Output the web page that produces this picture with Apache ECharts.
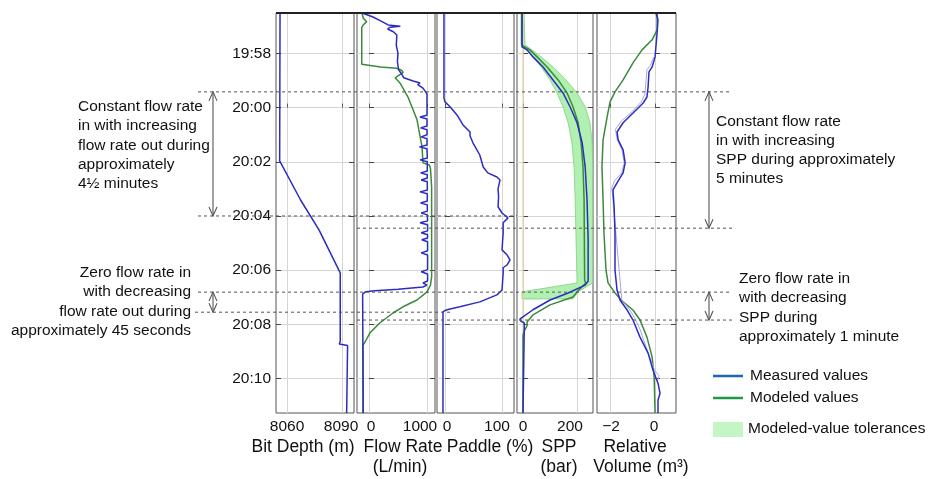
<!DOCTYPE html>
<html><head><meta charset="utf-8">
<script src="https://cdn.jsdelivr.net/npm/echarts@6/dist/echarts.min.js"></script>
<style>html,body{margin:0;padding:0;background:#fff}#c{width:928px;height:479px}</style>
</head><body><div id="c"></div>
<script>
// ---- DATA (time = minutes relative to 20:00) ----
const timeTicks = [-2, 0, 2, 4, 6, 8, 10];
const timeMin = -3.49, timeMax = 11.27;

const bitDepthTicks = [8060, 8090];
const flowTicks = [0, 1000];
const paddleTicks = [0, 100];
const sppTicks = [0, 200];
const volTicks = [-2, 0];

const bitDepthT = [-3.49, 1.97, 3.41, 4.52, 6.1, 8.62, 8.66, 8.72, 8.78, 11.27];
const bitDepthV = [8056.2, 8056, 8067.4, 8077.5, 8089, 8089, 8088, 8088.5, 8093, 8092.5];

const flowMeasT = [-3.49,-3.35,-3.2,-3.05,-3.0,-2.96,-2.9,-2.8,-2.68,-2.3,-2.0,-1.7,-1.39,-1.25,-1.10,-0.98,-0.91,-0.85,-0.72,-0.6,-0.5,0.0,0.28,0.35,0.42,0.68,0.75,0.82,1.0,1.08,1.15,1.38,1.45,1.52,1.86,1.93,2.0,2.34,2.41,2.48,2.6,2.67,2.74,3.04,3.11,3.18,3.45,3.52,3.59,3.82,3.89,3.96,4.18,4.25,4.32,4.55,4.62,4.69,4.81,4.88,4.95,5.28,5.36,5.44,5.98,6.06,6.14,6.4,6.47,6.55,6.62,6.70,6.76,6.80,6.88,6.95,11.27];
const flowMeasV = [-120,60,200,330,540,360,320,420,480,470,500,490,510,560,600,760,880,840,930,970,1000,1000,1000,880,1000,1000,890,1000,1000,900,1000,1000,870,1000,1005,880,1005,1005,890,1005,1005,900,1005,1005,880,1005,1005,890,1005,1005,900,1005,1010,880,1010,1010,900,1010,1010,910,1010,1010,900,1010,1010,900,1010,1010,930,1000,930,500,100,-60,-110,-95,-100];

const flowModT = [-3.49,-3.3,-3.17,-3.05,-2.95,-1.6,-1.5,-1.45,-1.38,-1.3,-1.2,-1.1,-0.91,-0.39,0.45,1.45,2.04,2.12,2.25,2.93,4.62,6.25,6.55,6.80,7.10,7.35,7.58,7.94,8.31,8.65,8.76,11.27];
const flowModV = [-120,-100,-40,-100,-125,-125,200,480,560,590,520,450,534,672,828,914,931,1040,1060,1080,1080,1080,1060,1000,828,586,414,190,17,-69,-103,-103];

const paddleT = [-3.49,-0.36,-0.21,-0.03,0.27,0.64,0.90,1.05,1.30,1.75,2.19,2.41,2.56,2.67,3.0,3.3,3.66,3.89,4.07,4.25,4.62,5.25,5.44,5.62,5.80,5.91,6.10,6.73,6.91,7.17,7.35,7.46,7.53,11.27];
const paddleV = [-1.8,-1.8,0,8.8,21,31.6,43.9,44,49,61,67,75,91,96.5,93,94,93,100,110.5,102,102,100,109,114,109,102,102,100,91,61,26,3.5,-3.5,-3.5];

const sppMeasT = [-3.49,-2.24,-2.13,-1.87,-1.50,-1.02,-0.54,-0.03,0.56,1.30,2.19,3.41,4.88,6.40,6.55,6.84,7.10,7.46,7.72,7.80,7.88,7.95,11.27];
const sppMeasV = [-3.7,-3.7,15,37,74,111,148,174,200,219,230,237,241,241,230,167,100,37,0,-11,-8,5,0];

const sppModT = [-3.49,-2.3,-2.13,-1.87,-1.50,-1.02,-0.54,-0.03,0.56,1.30,2.19,3.41,4.88,6.36,6.47,6.80,6.99,7.28,7.65,7.91,8.05,8.2,8.4,11.27];
const sppModV = [-3.7,-3.7,26,52,89,130,163,185,204,215,222,226,227,228,232,200,185,100,37,15,15,7,0,0];

const sppTolT  = [-3.49,-2.32,-1.87,-1.50,-1.02,-0.54,-0.03,0.56,1.30,2.19,3.41,6.47,6.80,7.06];
const sppTolLo = [-7.4,-7.4,37,67,100,126,148,167,181,189,193,200,-3.7,-3.7];
const sppTolHi = [3.7,7.4,67,111,159,200,230,248,256,258,258,258,204,185];

const volMeasT = [-3.49,-3.24,-2.76,-1.87,-1.50,-1.32,-0.76,-0.39,-0.17,0.20,0.56,0.90,1.19,1.56,2.04,2.41,2.78,3.04,3.67,4.63,6.0,6.73,7.10,7.47,7.84,8.47,9.06,9.69,10.17,10.54,10.80,11.27];
const volMeasV = [0.04,0.13,0.09,0,-0.13,-0.27,-0.31,-0.36,-0.53,-0.98,-1.42,-1.69,-1.64,-1.42,-1.33,-1.42,-1.69,-1.87,-1.82,-1.78,-1.78,-1.69,-1.56,-1.24,-0.98,-0.67,-0.31,-0.09,0.13,0.22,0.13,0.13];

const volRawT = [-1.87,-1.55,-1.40,-1.0,-0.5,-0.2,0.15,0.5,0.8,1.19,1.56,2.04,2.41,2.7,2.95,3.5,7.1,7.47,7.84,8.2,8.6,9.2,9.69,9.9,10.1];
const volRawV = [-0.05,-0.22,-0.36,-0.40,-0.45,-0.62,-1.02,-1.50,-1.76,-1.68,-1.47,-1.37,-1.48,-1.80,-1.92,-1.86,-1.48,-1.12,-0.86,-0.66,-0.50,-0.24,-0.02,0.18,0.10];

const volModT = [-3.49,-2.87,-2.50,-2.13,-1.65,-1.02,-0.58,-0.21,0.34,1.19,2.19,3.41,4.63,6.0,6.47,6.84,7.17,7.47,7.84,8.47,9.21,9.95,11.27];
const volModV = [0.09,0.09,-0.13,-0.58,-0.98,-1.42,-1.78,-2.0,-2.13,-2.31,-2.36,-2.31,-2.27,-2.18,-2.09,-1.78,-1.42,-0.98,-0.67,-0.36,-0.13,-0.04,0.0];

// annotation times
const annLeftTop = -0.58, annLeftBot = 4.0, annRightBot = 4.45;
const annLowTop = 6.81, annLowLeft = 7.55, annLowRight = 7.84;

// ---- LAYOUT / STYLE ----
const FONT = "'Liberation Sans', Arial, Helvetica, sans-serif";
const BLUE = '#2c2cc2', GREEN = '#3a8a3a';
const panels = [
  {left:276, width:78, min:8054.0, max:8096.5, ticks:bitDepthTicks, shift:{8060:0, 8090:1}},
  {left:357, width:78, min:-207, max:1138, ticks:flowTicks, shift:{0:-2, 1000:7}},
  {left:437, width:77, min:-14, max:121, ticks:paddleTicks, shift:{0:-2, 100:5}},
  {left:517, width:76, min:-22.2, max:259, ticks:sppTicks, shift:{0:0, 200:7}},
  {left:597, width:79, min:-2.58, max:0.93, ticks:volTicks, shift:{'-2':-1, 0:1}}
];
const TOP = 13, HEIGHT = 400;

const zip = (xs, ts) => xs.map((v, i) => [v, ts[i]]);
const fmtNum = v => v < 0 ? '\u2212' + Math.abs(v) : String(v);
const fmtTime = v => { const tot = 1200 + v; const h = Math.floor(tot / 60); const m = Math.round(tot - h * 60); return h + ':' + String(m).padStart(2, '0'); };

const grid = [], xAxis = [], yAxis = [];
panels.forEach((p, i) => {
  grid.push({left:p.left, top:TOP, width:p.width, height:HEIGHT, show:true, borderColor:'#555', borderWidth:1, backgroundColor:'transparent'});
  const rich = {};
  p.ticks.forEach((t, k) => { const s = p.shift[t] || 0; rich['s' + k] = {padding: s > 0 ? [0, 2*s, 0, 0] : [0, 0, 0, -2*s], fontSize:15.5, fontFamily:FONT, color:'#111'}; });
  xAxis.push({
    type:'value', gridIndex:i, min:p.min, max:p.max, position:'bottom',
    axisLine:{show:false},
    axisTick:{show:true, inside:true, length:4, lineStyle:{color:'#555'}, customValues:p.ticks},
    axisLabel:{show:true, margin:6, customValues:p.ticks, fontSize:15.5, fontFamily:FONT, color:'#111',
      formatter:(v) => { const k = p.ticks.indexOf(v); return '{s' + (k < 0 ? 0 : k) + '|' + fmtNum(v) + '}'; }, rich:rich},
    splitLine:{show:true, lineStyle:{color:'#d6d6d6', width:1}}
  });
  yAxis.push({
    type:'value', gridIndex:i, inverse:true, min:timeMin, max:timeMax, position:'left',
    axisLine:{show:false},
    axisTick:{show:true, inside:true, length:5, lineStyle:{color:'#444'}, customValues:timeTicks},
    axisLabel:{show:i === 0, customValues:timeTicks, formatter:fmtTime, fontSize:15.5, fontFamily:FONT, color:'#111', margin:5},
    splitLine:{show:true, lineStyle:{color:'#d6d6d6', width:1}}
  });
});
panels.forEach((p, i) => {
  yAxis.push({
    type:'value', gridIndex:i, inverse:true, min:timeMin, max:timeMax, position:'right',
    axisLine:{show:false},
    axisTick:{show:true, inside:true, length:5, lineStyle:{color:'#444'}, customValues:timeTicks},
    axisLabel:{show:false, customValues:timeTicks},
    splitLine:{show:false}
  });
});

const line = (i, data, color, z, w) => ({
  type:'line', xAxisIndex:i, yAxisIndex:i, data:data, showSymbol:false, symbol:'none',
  lineStyle:{color:color, width:w || 1.5}, z:z, silent:true, animation:false, clip:true
});

const series = [
  line(0, zip(bitDepthV, bitDepthT), BLUE, 3),
  line(1, zip(flowModV, flowModT), GREEN, 2),
  line(1, zip(flowMeasV, flowMeasT), BLUE, 3),
  line(2, zip(paddleV, paddleT), BLUE, 3),
  {
    type:'custom', xAxisIndex:3, yAxisIndex:3, coordinateSystem:'cartesian2d', data:[[0, 0]], silent:true, z:1, clip:true, animation:false,
    renderItem:(params, api) => {
      const pts = [];
      for (let k = 0; k < sppTolT.length; k++) pts.push(api.coord([sppTolLo[k], sppTolT[k]]));
      for (let k = sppTolT.length - 1; k >= 0; k--) pts.push(api.coord([sppTolHi[k], sppTolT[k]]));
      return {type:'polygon', shape:{points:pts}, style:{fill:'#b2f0b2', stroke:'#7fcf7f', lineWidth:0.8}};
    }
  },
  line(3, [[0, timeMin], [0, timeMax]], '#e2d3a0', 1, 1.2),
  line(3, zip(sppModV, sppModT), GREEN, 2),
  line(3, zip(sppMeasV, sppMeasT), BLUE, 3),
  line(4, zip(volModV, volModT), GREEN, 2),
  line(4, zip(volRawV, volRawT), '#aaa4e8', 2, 1),
  line(4, zip(volMeasV, volMeasT), BLUE, 3)
];

const chart = echarts.init(document.getElementById('c'), null, {renderer:'canvas'});
chart.setOption({animation:false, backgroundColor:'#fff', grid, xAxis, yAxis, series});

// ---- annotations (positions from the time axis) ----
const Y = t => chart.convertToPixel({yAxisIndex:0}, t);
const G = [];
const DASH = {stroke:'#555', lineWidth:1, lineDash:[3, 3]};
const dashed = (t, x1, x2) => G.push({type:'line', shape:{x1:x1, y1:Y(t), x2:x2, y2:Y(t)}, style:DASH, z:50, silent:true});
dashed(annLeftTop, 198, 732);
dashed(annLeftBot, 198, 517);
dashed(annRightBot, 357, 732);
dashed(annLowTop, 198, 732);
dashed(annLowLeft, 195, 450);
dashed(annLowRight, 357, 732);
const ARROW = {stroke:'#555', lineWidth:1.1, fill:null};
const arrow = (x, t1, t2) => {
  const y1 = Y(t1), y2 = Y(t2);
  G.push({type:'line', shape:{x1:x, y1:y1, x2:x, y2:y2}, style:ARROW, z:51, silent:true});
  G.push({type:'polyline', shape:{points:[[x - 4, y1 + 9], [x, y1], [x + 4, y1 + 9]]}, style:ARROW, z:51, silent:true});
  G.push({type:'polyline', shape:{points:[[x - 4, y2 - 9], [x, y2], [x + 4, y2 - 9]]}, style:ARROW, z:51, silent:true});
};
arrow(213, annLeftTop, annLeftBot);
arrow(213, annLowTop, annLowLeft);
arrow(709, annLeftTop, annRightBot);
arrow(709, annLowTop, annLowRight);

const txt = (x, y, text, opts) => G.push(Object.assign({type:'text', x:x, y:y, silent:true, z:60,
  style:Object.assign({text:text, fill:'#111', font:'15.5px ' + FONT, lineHeight:19.3, textAlign:'left', textVerticalAlign:'top'}, (opts || {}).style || {})}, (opts || {}).el || {}));

txt(78, 97, 'Constant flow rate\nin with increasing\nflow rate out during\napproximately\n4½ minutes');
txt(191, 263, 'Zero flow rate in\nwith decreasing\nflow rate out during\napproximately 45 seconds', {style:{textAlign:'right'}});
txt(716, 112, 'Constant flow rate\nin with increasing\nSPP during approximately\n5 minutes', {style:{lineHeight:19}});
txt(739, 269, 'Zero flow rate in\nwith decreasing\nSPP during\napproximately 1 minute', {style:{lineHeight:19.3}});

// legend
G.push({type:'line', shape:{x1:713, y1:376, x2:743, y2:376}, style:{stroke:'#1f68b0', lineWidth:2.5}, silent:true});
G.push({type:'line', shape:{x1:713, y1:398, x2:743, y2:398}, style:{stroke:'#1d9a48', lineWidth:2.5}, silent:true});
G.push({type:'rect', shape:{x:713, y:422, width:30, height:15}, style:{fill:'#c4f5c4'}, silent:true});
txt(750, 376, 'Measured values', {style:{textVerticalAlign:'middle'}});
txt(750, 398, 'Modeled values', {style:{textVerticalAlign:'middle'}});
txt(748, 429, 'Modeled-value tolerances', {style:{textVerticalAlign:'middle'}});

// axis names
const NAME = {font:'17.5px ' + FONT, textAlign:'center', textVerticalAlign:'middle', lineHeight:20};
txt(303, 447, 'Bit Depth (m)', {style:NAME});
txt(403, 447, 'Flow Rate', {style:NAME});
txt(400, 467, '(L/min)', {style:NAME});
txt(490, 447, 'Paddle (%)', {style:NAME});
txt(559, 447, 'SPP', {style:NAME});
txt(559, 467, '(bar)', {style:NAME});
txt(635, 447, 'Relative', {style:NAME});
txt(641, 467, 'Volume (m³)', {style:NAME});
// time axis name
txt(226, 218, 'Time', {style:{font:'14.5px ' + FONT, textAlign:'center', textVerticalAlign:'middle'}, el:{rotation:Math.PI / 2, originX:226, originY:218}});

// top frame line
G.push({type:'line', shape:{x1:276, y1:TOP, x2:676, y2:TOP}, style:{stroke:'#222', lineWidth:2}, z:40, silent:true});

chart.setOption({graphic:G});
</script>
</body></html>
